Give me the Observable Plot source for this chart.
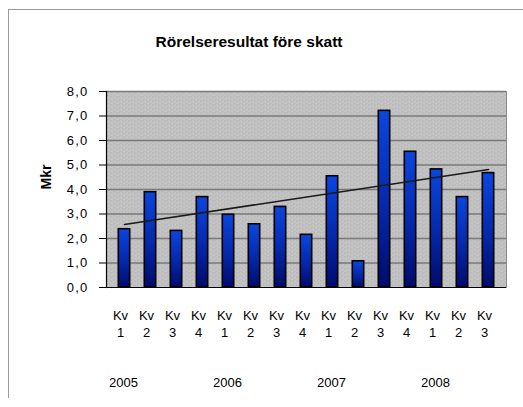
<!DOCTYPE html>
<html>
<head>
<meta charset="utf-8">
<script src="https://cdn.jsdelivr.net/npm/d3@7"></script>
<script src="https://cdn.jsdelivr.net/npm/@observablehq/plot@0.6"></script>
<style>
  html, body { margin: 0; padding: 0; background: #fff; }
  #wrap { position: relative; width: 523px; height: 407px; overflow: hidden; font-family: "Liberation Sans", Arial, sans-serif; }
  #wrap svg { position: absolute; left: 0; top: 0; }
  #border { position: absolute; left: 8px; top: 9px; width: 530px; height: 388px; border-top: 1px solid #9a9a9a; border-left: 1px solid #9a9a9a; }
  #title { position: absolute; left: 0; width: 498px; top: 33px; text-align: center; font-weight: bold; font-size: 15.5px; color: #000; letter-spacing: 0px; }
  .ytick text { letter-spacing: 1.2px; }
</style>
</head>
<body>
<div id="wrap">
  <div id="border"></div>
  <div id="title">Rörelseresultat före skatt</div>
</div>
<script>
const years    = [2005, 2005, 2005, 2005, 2006, 2006, 2006, 2006, 2007, 2007, 2007, 2007, 2008, 2008, 2008];
const quarters = [1, 2, 3, 4, 1, 2, 3, 4, 1, 2, 3, 4, 1, 2, 3];
const values   = [2.38, 3.89, 2.31, 3.69, 2.97, 2.58, 3.29, 2.15, 4.54, 1.07, 7.21, 5.54, 4.82, 3.69, 4.67];
const trendValues = [2.57, 4.82]; // trend line at first and last quarter
const yTicks = [0, 1, 2, 3, 4, 5, 6, 7, 8];
const yLabel = "Mkr";

const data = values.map((v, i) => ({
  key: years[i] + " Kv" + quarters[i],
  year: years[i],
  q: quarters[i],
  value: v
}));
const keys = data.map(d => d.key);
const trend = [
  {key: keys[0], value: trendValues[0]},
  {key: keys[keys.length - 1], value: trendValues[1]}
];
const yearLabels = data.filter(d => d.q === 1);

const chart = Plot.plot({
  width: 523,
  height: 407,
  marginLeft: 106,
  marginRight: 17,
  marginTop: 91,
  marginBottom: 120,
  style: {fontFamily: "'Liberation Sans', Arial, sans-serif", fontSize: "12px", background: "transparent", overflow: "visible"},
  x: {domain: keys, padding: 0, axis: null},
  y: {domain: [0, 8], axis: null},
  marks: [
    Plot.frame({fill: "url(#dither)", stroke: "#8a8a8a"}),
    Plot.gridY(yTicks.slice(1), {stroke: "#7a7a7a", strokeOpacity: 1, strokeWidth: 1.4}),
    Plot.barY(data, {x: "key", y: "value", fill: "url(#barGrad)", stroke: "#000", strokeWidth: 1.6, insetLeft: 7.3, insetRight: 7.3}),
    Plot.line(trend, {x: "key", y: "value", stroke: "#1a1a1a", strokeWidth: 1.5}),
    Plot.ruleY([0], {stroke: "#000", strokeWidth: 1.2}),
    Plot.frame({anchor: "left", stroke: "#000", strokeWidth: 1.2}),
    Plot.axisY(yTicks, {className: "ytick", tickSize: 7, tickPadding: 11, tickFormat: d => d.toFixed(1).replace(".", ","), label: null, fontSize: 13, stroke: "#000"}),
    Plot.text([yLabel], {text: d => d, frameAnchor: "left", rotate: -90, dx: -60, dy: 0, fontWeight: "bold", fontSize: 14, fill: "#000"}),
    Plot.text(data, {x: "key", text: d => "Kv", frameAnchor: "bottom", dy: 28, dx: -4, fontSize: 13, fill: "#000", lineAnchor: "middle"}),
    Plot.text(data, {x: "key", text: d => String(d.q), frameAnchor: "bottom", dy: 45, dx: -4, fontSize: 13, fill: "#000", lineAnchor: "middle"}),
    Plot.text(yearLabels, {x: "key", text: d => String(d.year), frameAnchor: "bottom", dy: 95, dx: -1, fontSize: 13, fill: "#000", lineAnchor: "middle"})
  ]
});

const svg = d3.select(chart);
const defs = svg.insert("defs", ":first-child");
const grad = defs.append("linearGradient").attr("id", "barGrad").attr("x1", 0).attr("y1", 0).attr("x2", 0).attr("y2", 1);
grad.append("stop").attr("offset", "0%").attr("stop-color", "#0a46e0");
grad.append("stop").attr("offset", "55%").attr("stop-color", "#0428aa");
grad.append("stop").attr("offset", "100%").attr("stop-color", "#000a6c");
const pat = defs.append("pattern").attr("id", "dither").attr("patternUnits", "userSpaceOnUse").attr("width", 6).attr("height", 4);
pat.append("rect").attr("width", 6).attr("height", 4).attr("fill", "#bababa");
[[0,0],[3,0],[1,1],[4,2],[2,2],[0,3],[5,1],[3,3]].forEach(([px, py]) => {
  pat.append("rect").attr("x", px).attr("y", py).attr("width", 1).attr("height", 1).attr("fill", "#d0d0d0");
});
[[2,0],[5,3]].forEach(([px, py]) => {
  pat.append("rect").attr("x", px).attr("y", py).attr("width", 1).attr("height", 1).attr("fill", "#a9a9a9");
});

document.getElementById("wrap").appendChild(chart);
</script>
</body>
</html>
